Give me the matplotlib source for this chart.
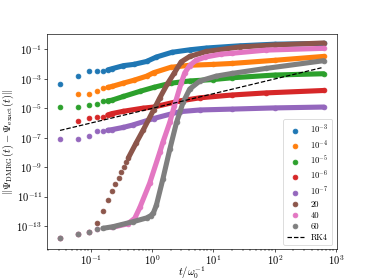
import matplotlib
matplotlib.use('Agg')
import matplotlib.pyplot as plt

plt.rcParams['font.family'] = 'serif'
plt.rcParams['font.serif'] = ['cmr10', 'DejaVu Serif']
plt.rcParams['mathtext.fontset'] = 'cm'
plt.rcParams['axes.formatter.use_mathtext'] = True
plt.rcParams['axes.unicode_minus'] = False
plt.rcParams['font.size'] = 13

# ---- data ----
t_1e3 = [0.0314, 0.0628, 0.0942, 0.1257, 0.1571, 0.1885, 0.2199, 0.34, 0.50, 0.81, 1.17, 2.1, 4.1, 7.7, 27, 100, 628]
e_1e3 = [4.2e-4, 1.6e-3, 3.2e-3, 3.2e-3, 3.5e-3, 4.0e-3, 4.8e-3, 7.8e-3, 9.5e-3, 1.5e-2, 3.0e-2, 6.3e-2, 9.3e-2, 0.123, 0.174, 0.224, 0.25]

t_1e4 = [0.0628, 0.0942, 0.1257, 0.1571, 0.1885, 0.2199, 0.34, 0.50, 0.81, 1.06, 2.0, 4.1, 10, 20, 100, 628]
e_1e4 = [9.1e-5, 9.8e-5, 1.4e-4, 2.3e-4, 2.6e-4, 3.0e-4, 5.1e-4, 7.9e-4, 1.5e-3, 2.6e-3, 6.0e-3, 8.3e-3, 9.5e-3, 1.1e-2, 1.8e-2, 3.3e-2]

t_1e5 = [0.0314, 0.0628, 0.0942, 0.1257, 0.1571, 0.1885, 0.2199, 0.34, 0.63, 1.06, 2.0, 4.1, 10, 20, 100, 628]
e_1e5 = [1.3e-5, 1.3e-5, 1.55e-5, 2.0e-5, 2.95e-5, 3.2e-5, 3.5e-5, 6.3e-5, 1.4e-4, 2.6e-4, 5.0e-4, 7.1e-4, 8.9e-4, 1.17e-3, 1.8e-3, 2.2e-3]

t_1e6 = [0.0628, 0.0942, 0.1257, 0.1571, 0.1885, 0.2199, 0.34, 0.7, 1.06, 2.8, 6, 20, 73, 628]
e_1e6 = [1.4e-6, 2.1e-6, 2.4e-6, 2.6e-6, 3.5e-6, 4.3e-6, 6.2e-6, 1.0e-5, 1.2e-5, 3.1e-5, 5.1e-5, 7.9e-5, 1.1e-4, 1.6e-4]

t_1e7 = [0.0314, 0.0628, 0.0942, 0.1257, 0.1571, 0.1885, 0.2199, 0.34, 0.48, 1.06, 2.8, 6, 20, 100, 628]
e_1e7 = [8.1e-8, 8.1e-8, 1.23e-7, 2.8e-7, 2.8e-7, 3.2e-7, 3.5e-7, 5.0e-7, 7.2e-7, 2.0e-6, 5.8e-6, 7.6e-6, 8.7e-6, 1.05e-5, 1.2e-5]

t_20 = [0.0314, 0.0628, 0.0942, 0.1257, 0.1571, 0.1885, 0.2199, 0.2513, 0.2827, 0.3142, 0.3456, 0.3770, 0.4084,
        0.55, 0.72, 1.06, 1.33, 1.8, 2.3, 2.97, 4.1, 7.7, 27, 100, 628]
e_20 = [1.45e-14, 2.7e-14, 4.1e-14, 1.7e-13, 1.05e-12, 5.75e-12, 2.24e-11, 7.4e-11, 1.9e-10, 4.6e-10, 1.07e-9, 2.1e-9, 4.2e-9,
        4.5e-8, 3.5e-7, 7.9e-6, 5.0e-5, 5.0e-4, 2.5e-3, 1.4e-2, 3.3e-2, 7.2e-2, 0.145, 0.2, 0.27]

t_40 = [0.0314, 0.0628, 0.0942, 0.1257, 0.2199, 0.40, 0.52, 0.63, 0.91, 1.33, 1.5, 1.94, 2.3, 2.97, 3.4, 4.1, 5.2, 7.4, 13.3, 20, 73, 628]
e_40 = [1.45e-14, 2.7e-14, 4.1e-14, 5.9e-14, 7.9e-14, 1.4e-13, 3.3e-13, 1.8e-12, 7.9e-11, 1.0e-8, 5.0e-8, 1.1e-6, 1.4e-5,
        5.0e-4, 2.5e-3, 7.9e-3, 1.8e-2, 3.0e-2, 4.7e-2, 5.4e-2, 8.9e-2, 0.117]

t_60 = [0.0314, 0.0628, 0.0942, 0.1257, 0.1571, 0.23, 0.49, 0.81, 0.95, 1.05, 1.17, 1.5, 1.94, 2.5, 3.2, 4.1, 6, 11, 20, 73, 628]
e_60 = [1.45e-14, 2.7e-14, 4.1e-14, 5.9e-14, 6.9e-14, 8.9e-14, 1.95e-13, 3.5e-13, 5.0e-13, 7.9e-13, 2.5e-12, 1.6e-10, 1.6e-8,
        1.1e-6, 2.5e-5, 2.0e-4, 7.1e-4, 1.5e-3, 2.3e-3, 5.1e-3, 1.7e-2]

t_rk4 = [0.0314, 580]
e_rk4 = [3.1e-7, 5.6e-3]

labels = [r'$10^{-3}$', r'$10^{-4}$', r'$10^{-5}$', r'$10^{-6}$', r'$10^{-7}$', '20', '40', '60']
series_t = [t_1e3, t_1e4, t_1e5, t_1e6, t_1e7, t_20, t_40, t_60]
series_e = [e_1e3, e_1e4, e_1e5, e_1e6, e_1e7, e_20, e_40, e_60]
# time from which the individual time steps merge into a continuous band
dense_from = [0.18, 0.18, 0.18, 0.18, 0.18, 0.40, 0.20, 0.15]

dpi = 58.4375
fig = plt.figure(figsize=(374 / dpi, 280 / dpi), dpi=dpi)
ax = fig.add_axes([0.125, 0.11, 0.775, 0.77])

for i, (t, e, lab, t0) in enumerate(zip(series_t, series_e, labels, dense_from)):
    c = 'C%d' % i
    tt = [x for x in t if x >= t0]
    ee = [y for x, y in zip(t, e) if x >= t0]
    ax.plot(tt, ee, color=c, lw=6.3, solid_capstyle='round', solid_joinstyle='round', zorder=2 + i * 0.1)
    ax.scatter(t, e, color=c, s=34, label=lab, zorder=2 + i * 0.1)

ax.plot(t_rk4, e_rk4, 'k--', lw=1.5, label='RK4', zorder=3)

ax.set_xscale('log')
ax.set_yscale('log')
ax.set_xlim(10 ** -1.72, 10 ** 3.01)
ax.set_ylim(10 ** -14.58, 10 ** 0.07)
ax.tick_params(axis='both', which='major', pad=2)
ax.set_xlabel(r'$t/\omega_0^{-1}$', labelpad=-4)
ax.set_ylabel(r'$\|\Psi_{\rm DMRG}(t) - \Psi_{\rm exact}(t)\|$', labelpad=0)
ax.legend(loc='lower right', fontsize=10.5, labelspacing=0.3)

fig.savefig('out.png', dpi=dpi)
